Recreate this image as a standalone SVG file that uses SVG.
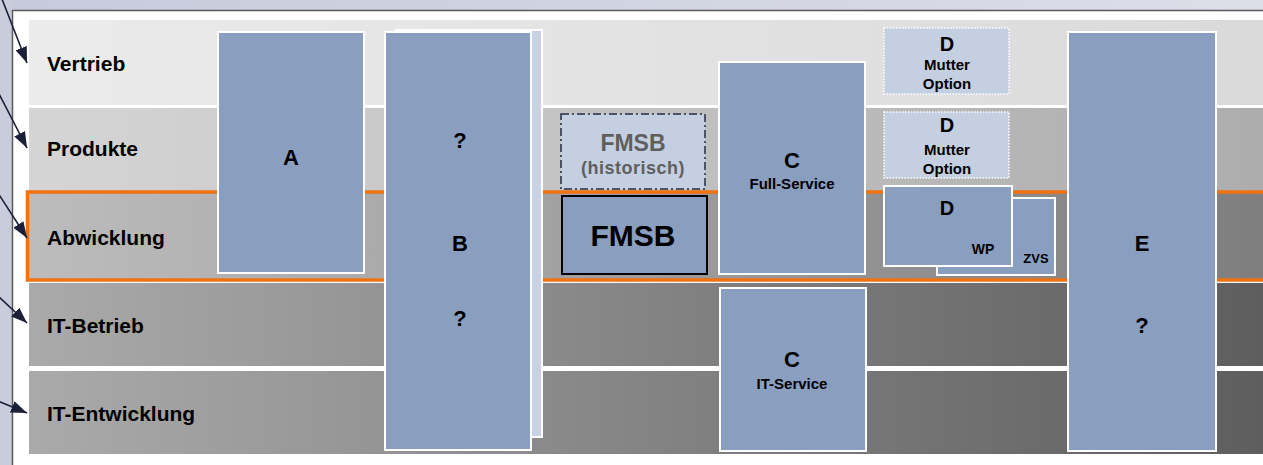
<svg xmlns="http://www.w3.org/2000/svg" width="1263" height="465" viewBox="0 0 1263 465">
<defs>
<linearGradient id="gTop" x1="0" y1="0" x2="1" y2="0"><stop offset="0" stop-color="#c6cadb"/><stop offset="1" stop-color="#dcdee8"/></linearGradient>
<linearGradient id="g1" x1="0" y1="0" x2="1" y2="0"><stop offset="0" stop-color="#ebebeb"/><stop offset="1" stop-color="#dadada"/></linearGradient>
<linearGradient id="g2" x1="0" y1="0" x2="1" y2="0"><stop offset="0" stop-color="#d5d5d5"/><stop offset="1" stop-color="#adadad"/></linearGradient>
<linearGradient id="g3" x1="0" y1="0" x2="1" y2="0"><stop offset="0" stop-color="#bcbcbc"/><stop offset="1" stop-color="#7e7e7e"/></linearGradient>
<linearGradient id="g4" x1="0" y1="0" x2="1" y2="0"><stop offset="0" stop-color="#aaaaaa"/><stop offset="1" stop-color="#5e5e5e"/></linearGradient>
<marker id="ah" viewBox="0 0 16 12" refX="16" refY="6" markerWidth="16" markerHeight="12" markerUnits="userSpaceOnUse" orient="auto"><path d="M0,0 L16,6 L0,12 z" fill="#1b2038"/></marker>
<style>
.lbl{font-family:"Liberation Sans",Arial,sans-serif;font-weight:bold;fill:#000}
.band{font-size:21px}
.box{fill:#8a9fc0;stroke:#fff;stroke-width:2}
.lbox{fill:#c5cfe2;stroke:#fff;stroke-width:1.5;stroke-dasharray:1.5,1.5}
.big{font-size:22px;text-anchor:middle}
.sm{font-size:15px;text-anchor:middle}
.conn{stroke:#1b2038;stroke-width:1.6;fill:none}
</style>
</defs>
<rect width="1263" height="465" fill="#ffffff"/>
<rect x="0" y="0" width="1263" height="10" fill="url(#gTop)"/>
<rect x="0" y="0" width="12" height="465" fill="#c8ccdb"/>
<line x1="12" y1="10.5" x2="1263" y2="10.5" stroke="#5a5a5a" stroke-width="1.5"/>
<line x1="12.5" y1="10" x2="12.5" y2="465" stroke="#5a5a5a" stroke-width="1.5"/>

<g id="band-vertrieb"><rect x="29" y="20" width="1234" height="85" fill="url(#g1)"/><text class="lbl band" x="47" y="71">Vertrieb</text></g>
<g id="band-produkte"><rect x="29" y="108" width="1234" height="84" fill="url(#g2)"/><text class="lbl band" x="47" y="156">Produkte</text></g>
<g id="band-abwicklung"><rect x="27.5" y="192" width="1240" height="88" fill="url(#g3)" stroke="#f07212" stroke-width="3.5"/><text class="lbl band" x="47" y="245">Abwicklung</text></g>
<g id="band-itbetrieb"><rect x="29" y="283" width="1234" height="83" fill="url(#g4)"/><text class="lbl band" x="47" y="333">IT-Betrieb</text></g>
<g id="band-itentwicklung"><rect x="29" y="371" width="1234" height="83" fill="url(#g4)"/><text class="lbl band" x="47" y="421">IT-Entwicklung</text></g>

<g id="node-A"><rect class="box" x="218" y="32" width="146" height="241"/><text class="lbl big" x="291" y="165">A</text></g>
<g id="node-B">
<rect x="396" y="30" width="146" height="407" fill="#c8d2e4" stroke="#fff" stroke-width="2"/>
<rect class="box" x="385" y="32" width="146" height="418"/>
<text class="lbl big" x="460" y="148">?</text>
<text class="lbl big" x="460" y="251">B</text>
<text class="lbl big" x="460" y="326">?</text>
</g>
<g id="node-FMSB-hist"><rect x="561" y="114" width="144" height="75" fill="#c5cfe2" stroke="#262b42" stroke-width="1.5" stroke-dasharray="8,3,2,3"/>
<text class="lbl" x="633" y="151" font-size="23" text-anchor="middle" style="fill:#5f5f5f">FMSB</text>
<text class="lbl" x="633" y="174" font-size="18" text-anchor="middle" letter-spacing="0.5" style="fill:#5f5f5f">(historisch)</text></g>
<g id="node-FMSB"><rect x="562" y="196" width="145" height="78" fill="#8a9fc0" stroke="#000" stroke-width="2"/><text class="lbl" x="633" y="246" font-size="30" text-anchor="middle">FMSB</text></g>
<g id="node-C-full"><rect class="box" x="719" y="62" width="146" height="212"/><text class="lbl big" x="792" y="168">C</text><text class="lbl sm" x="792" y="189">Full-Service</text></g>
<g id="node-C-it"><rect class="box" x="720" y="288" width="146" height="163"/><text class="lbl big" x="792" y="367">C</text><text class="lbl sm" x="792" y="389">IT-Service</text></g>
<g id="node-D-vertrieb"><rect class="lbox" x="884" y="28" width="125" height="66"/><text class="lbl" x="947" y="51" font-size="20" text-anchor="middle">D</text><text class="lbl sm" x="947" y="70">Mutter</text><text class="lbl sm" x="947" y="89">Option</text></g>
<g id="node-D-produkte"><rect class="lbox" x="884" y="112" width="125" height="66"/><text class="lbl" x="947" y="132" font-size="20" text-anchor="middle">D</text><text class="lbl sm" x="947" y="155">Mutter</text><text class="lbl sm" x="947" y="174">Option</text></g>
<g id="node-D-zvs"><rect class="box" x="937" y="198" width="118" height="77"/><text class="lbl" x="1036" y="263" font-size="13" text-anchor="middle">ZVS</text></g>
<g id="node-D-wp"><rect class="box" x="884" y="186" width="128" height="80"/><text class="lbl" x="947" y="215" font-size="20" text-anchor="middle">D</text><text class="lbl" x="983" y="254" font-size="14" text-anchor="middle">WP</text></g>
<g id="node-E"><rect class="box" x="1068" y="32" width="148" height="419"/><text class="lbl big" x="1142" y="251">E</text><text class="lbl big" x="1142" y="333">?</text></g>

<g id="connectors">
<line class="conn" x1="0" y1="-6" x2="27" y2="63" marker-end="url(#ah)"/>
<line class="conn" x1="-2" y1="92" x2="27" y2="148" marker-end="url(#ah)"/>
<line class="conn" x1="-2" y1="193" x2="27" y2="238" marker-end="url(#ah)"/>
<line class="conn" x1="-2" y1="296" x2="27" y2="323" marker-end="url(#ah)"/>
<line class="conn" x1="-2" y1="401" x2="27" y2="413" marker-end="url(#ah)"/>
</g>
</svg>
